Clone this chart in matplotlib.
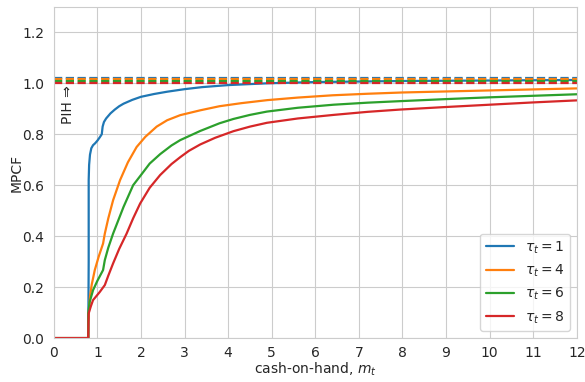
import numpy as np
import matplotlib
matplotlib.use("Agg")
import matplotlib.pyplot as plt
import seaborn as sns

# cash-on-hand grid points and MPCF values
M_1 = [0.0, 0.79, 0.80, 0.80, 0.81, 0.83, 0.86, 0.90, 0.95, 1.00, 1.05, 1.10,
       1.12, 1.15, 1.20, 1.25, 1.30, 1.40, 1.50, 1.60, 1.80, 2.00, 2.30, 2.60,
       3.00, 3.40, 4.00, 4.90, 6.00, 8.00, 10.0, 12.0]
MPC_1 = [0.0, 0.0, 0.30, 0.62, 0.68, 0.72, 0.745, 0.757, 0.765, 0.775, 0.787, 0.80,
         0.83, 0.848, 0.862, 0.872, 0.882, 0.897, 0.91, 0.92, 0.935, 0.947, 0.958, 0.967,
         0.977, 0.985, 0.993, 1.000, 1.005, 1.009, 1.011, 1.013]

M_4 = [0.0, 0.79, 0.79, 0.81, 0.83, 0.87, 0.94, 1.03, 1.13, 1.17, 1.25, 1.36,
       1.52, 1.70, 1.90, 2.10, 2.36, 2.60, 2.90, 3.36, 3.80, 4.30, 4.90, 5.60,
       6.40, 7.20, 8.00, 9.00, 10.0, 11.0, 12.0]
MPC_4 = [0.0, 0.0, 0.058, 0.12, 0.162, 0.21, 0.267, 0.32, 0.371, 0.41, 0.47, 0.541,
         0.62, 0.69, 0.75, 0.79, 0.83, 0.855, 0.875, 0.894, 0.91, 0.922, 0.934, 0.944,
         0.953, 0.959, 0.964, 0.968, 0.972, 0.976, 0.980]

M_6 = [0.0, 0.79, 0.79, 0.82, 0.90, 1.00, 1.13, 1.17, 1.25, 1.36, 1.60, 1.82,
       2.00, 2.20, 2.44, 2.70, 2.90, 3.36, 3.80, 4.12, 4.50, 4.89, 5.60, 6.42,
       7.20, 7.95, 9.00, 10.0, 11.0, 12.0]
MPC_6 = [0.0, 0.0, 0.097, 0.14, 0.188, 0.225, 0.267, 0.306, 0.355, 0.41, 0.515, 0.60,
         0.64, 0.685, 0.722, 0.756, 0.777, 0.813, 0.843, 0.86, 0.876, 0.889, 0.904, 0.916,
         0.924, 0.93, 0.938, 0.945, 0.951, 0.957]

M_8 = [0.0, 0.79, 0.79, 0.795, 0.80, 0.85, 0.90, 1.05, 1.17, 1.25, 1.36, 1.50,
       1.67, 1.82, 1.98, 2.20, 2.44, 2.70, 2.90, 3.10, 3.36, 3.70, 4.12, 4.50,
       4.89, 5.60, 6.42, 7.20, 7.95, 9.00, 10.0, 11.0, 12.0]
MPC_8 = [0.0, 0.0, 0.005, 0.06, 0.097, 0.125, 0.149, 0.18, 0.208, 0.245, 0.293, 0.35,
         0.41, 0.47, 0.528, 0.59, 0.64, 0.683, 0.71, 0.735, 0.76, 0.786, 0.812, 0.83,
         0.845, 0.862, 0.876, 0.888, 0.897, 0.907, 0.916, 0.925, 0.933]

TAUS = [1, 4, 6, 8]
PIH_MPC = [1.022, 1.016, 1.010, 1.003]
COLORS = ["tab:blue", "tab:orange", "tab:green", "tab:red"]


def make_graph():
    sns.set_style("whitegrid")
    plt.rcParams["font.family"] = ["DejaVu Sans"]

    fig = plt.figure(figsize=(5.85, 3.82), dpi=100)
    ax = fig.add_axes([0.092, 0.115, 0.894, 0.867])

    curves = [(M_1, MPC_1), (M_4, MPC_4), (M_6, MPC_6), (M_8, MPC_8)]
    for (m, mpc), tau, col in zip(curves, TAUS, COLORS):
        ax.plot(m, mpc, color=col, lw=1.6, label=rf"$\tau_t = {tau}$")

    for val, col in zip(PIH_MPC, COLORS):
        ax.axhline(val, color=col, ls="--", lw=1.6)

    ax.text(0.32, 0.915, "PIH \u21d2", rotation=90, ha="center", va="center",
            fontsize=10, color="#262626")

    ax.set_xlim(0, 12)
    ax.set_ylim(0, 1.3)
    ax.set_xticks(range(0, 13))
    ax.set_yticks(np.arange(0, 1.21, 0.2))
    ax.tick_params(labelsize=10, colors="#262626")
    ax.tick_params(axis="x", pad=2)
    ax.set_xlabel(r"cash-on-hand, $m_t$", fontsize=10, labelpad=0.5)
    ax.set_ylabel("MPCF", fontsize=10, labelpad=-1)
    ax.legend(loc="lower right", fontsize=10, frameon=True)

    fig.savefig("out.png", dpi=100)


if __name__ == "__main__":
    make_graph()
